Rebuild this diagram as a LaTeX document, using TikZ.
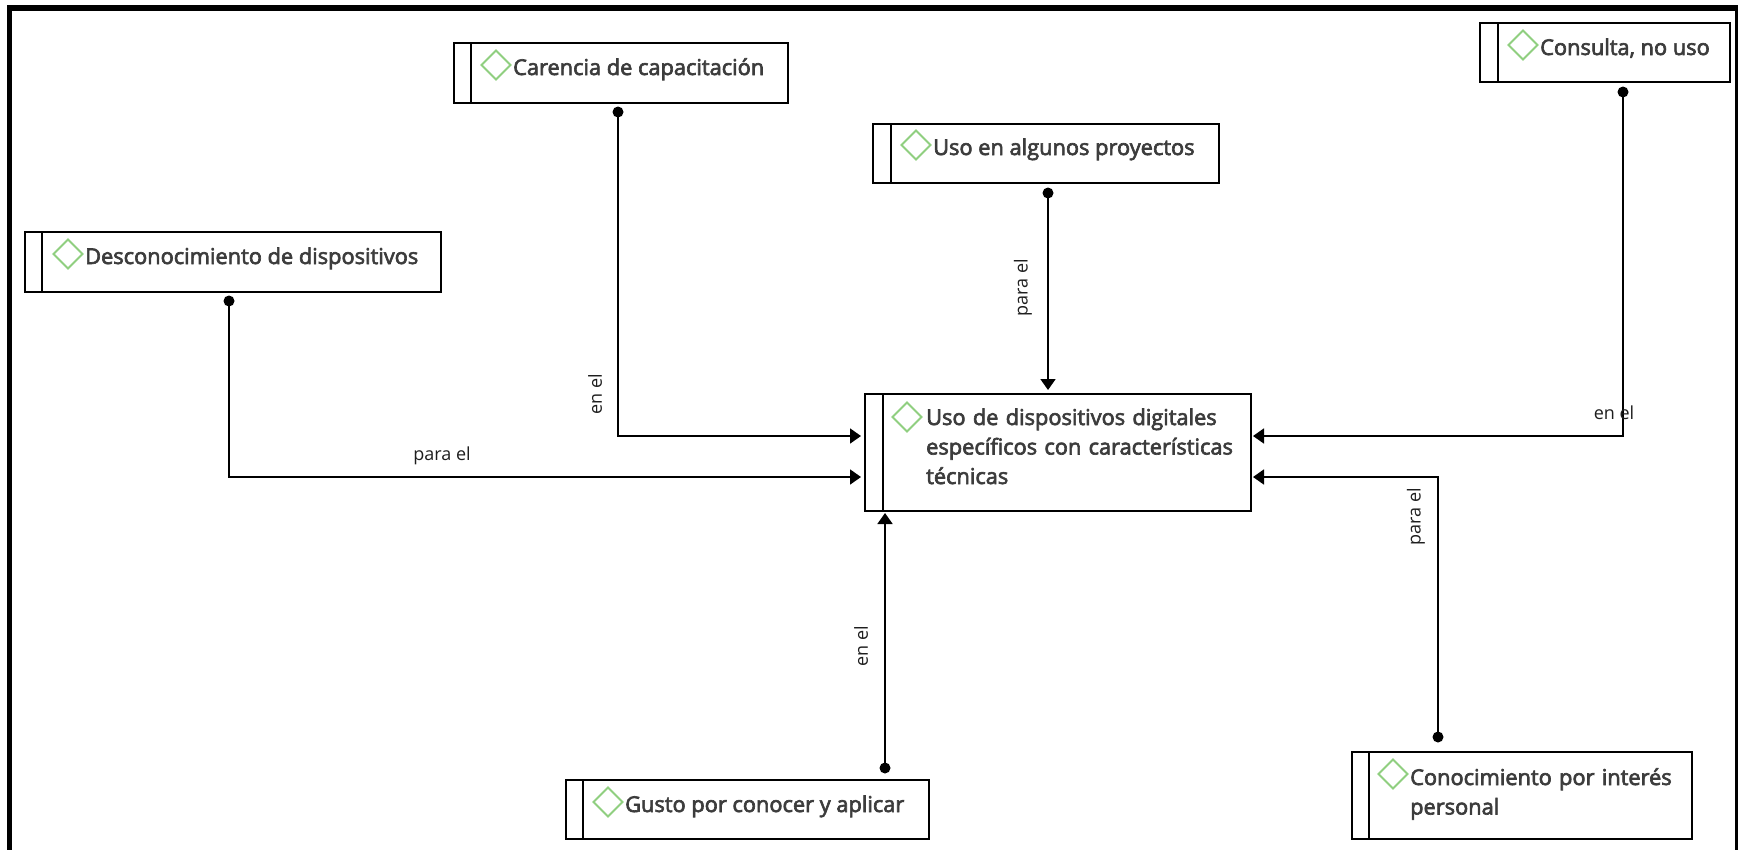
\documentclass[tikz,border=0pt]{standalone}
\usepackage{fontspec}
\setmainfont{Open Sans}
\newfontfamily\ttlfont[FakeBold=3]{Open Sans}
\usetikzlibrary{arrows.meta}
\definecolor{txt}{HTML}{3C3C3C}
\definecolor{dia}{HTML}{90CF80}
\definecolor{lab}{HTML}{1E1E1E}
\begin{document}
\begin{tikzpicture}[x=1pt,y=-1pt,
  box/.style={draw, line width=1.8pt, rectangle, inner sep=0pt, anchor=north west},
  divl/.style={line width=1.8pt},
  gdia/.style={draw=dia, line width=2pt, line join=miter},
  ttl/.style={font=\ttlfont\fontsize{21.8}{29.5}\selectfont, text=txt, inner sep=0pt, anchor=base west, align=left},
  lbl/.style={font=\fontsize{18}{20}\selectfont, text=lab, inner sep=0pt},
  conn/.style={line width=1.8pt, -{Triangle[length=11pt,width=15pt]}},
  dotn/.style={circle, fill=black, inner sep=0pt, minimum size=11pt},
  gdiamond/.pic={\draw[gdia] (-14.5,0) -- (0,-14.5) -- (14.5,0) -- (0,14.5) -- cycle;}
]
\useasboundingbox (0,0) rectangle (1743,849);
% frame
\draw[line width=5.5pt] (9.5,860) -- (9.5,8) -- (1738,8);
\draw[line width=3pt] (1736.5,8) -- (1736.5,860);

% boxes
\node[box, minimum width=334pt, minimum height=60pt] (car) at (453,42) {};
\node[box, minimum width=416pt, minimum height=60pt] (des) at (24,231) {};
\node[box, minimum width=346pt, minimum height=59pt] (uso) at (872,123) {};
\node[box, minimum width=250pt, minimum height=59pt] (cons) at (1479,22) {};
\node[box, minimum width=386pt, minimum height=117pt] (cen) at (864,393) {};
\node[box, minimum width=363pt, minimum height=59pt] (gus) at (565,779) {};
\node[box, minimum width=340pt, minimum height=87pt] (coi) at (1351,751) {};

% dividers
\foreach \b/\o in {car/18,des/18,uso/19,cons/19,cen/19,gus/18,coi/18}{
  \draw[divl] ([xshift=\o pt]\b.north west) -- ([xshift=\o pt]\b.south west);
}

% icons and titles
\pic at (496,65) {gdiamond};
\node[ttl] (cart) at (513,75) {Carencia de capacitación};
\pic at (68,254) {gdiamond};
\node[ttl] (dest) at (85,264) {Desconocimiento de dispositivos};
\pic at (916,145) {gdiamond};
\node[ttl] (usot) at (933,155) {Uso en algunos proyectos};
\pic at (1523,45) {gdiamond};
\node[ttl] (const) at (1540,55) {Consulta, no uso};
\pic at (907,417) {gdiamond};
\node[ttl, text width=320pt] (cent) at (926,425) {Uso de dispositivos digitales\\específicos con características\\técnicas};
\pic at (608,802) {gdiamond};
\node[ttl] (gust) at (625,812) {Gusto por conocer y aplicar};
\pic at (1393,774) {gdiamond};
\node[ttl, text width=275pt] (coit) at (1410,785) {Conocimiento por interés\\personal};

% connector ends
\node[dotn] (dcar) at (618,112) {};
\node[dotn] (ddes) at (229,301) {};
\node[dotn] (duso) at (1048,193) {};
\node[dotn] (dcons) at (1623,92) {};
\node[dotn] (dcoi) at (1438,737) {};
\node[dotn] (dgus) at (885,768) {};
\coordinate (cL1) at (861,436);
\coordinate (cL2) at (861,477);
\coordinate (cT) at (1048,390);
\coordinate (cR1) at (1253,436);
\coordinate (cR2) at (1253,477);
\coordinate (cB) at (885,513);

% connectors
\draw[conn] (dcar.center) |- (cL1);
\draw[conn] (ddes.center) |- (cL2);
\draw[conn] (duso.center) -- (cT);
\draw[conn] (dcons.center) |- (cR1);
\draw[conn] (dcoi.center) |- (cR2);
\draw[conn] (dgus.center) -- (cB);

% labels
\node[lbl, rotate=90] (l1) at (595,394) {en el};
\node[lbl] (l2) at (442,456) {para el};
\node[lbl, rotate=90] (l3) at (1023,288) {para el};
\node[lbl] (l4) at (1614,413) {en el};
\node[lbl, rotate=90] (l5) at (1416,517) {para el};
\node[lbl, rotate=90] (l6) at (861,646) {en el};
\end{tikzpicture}
\end{document}
